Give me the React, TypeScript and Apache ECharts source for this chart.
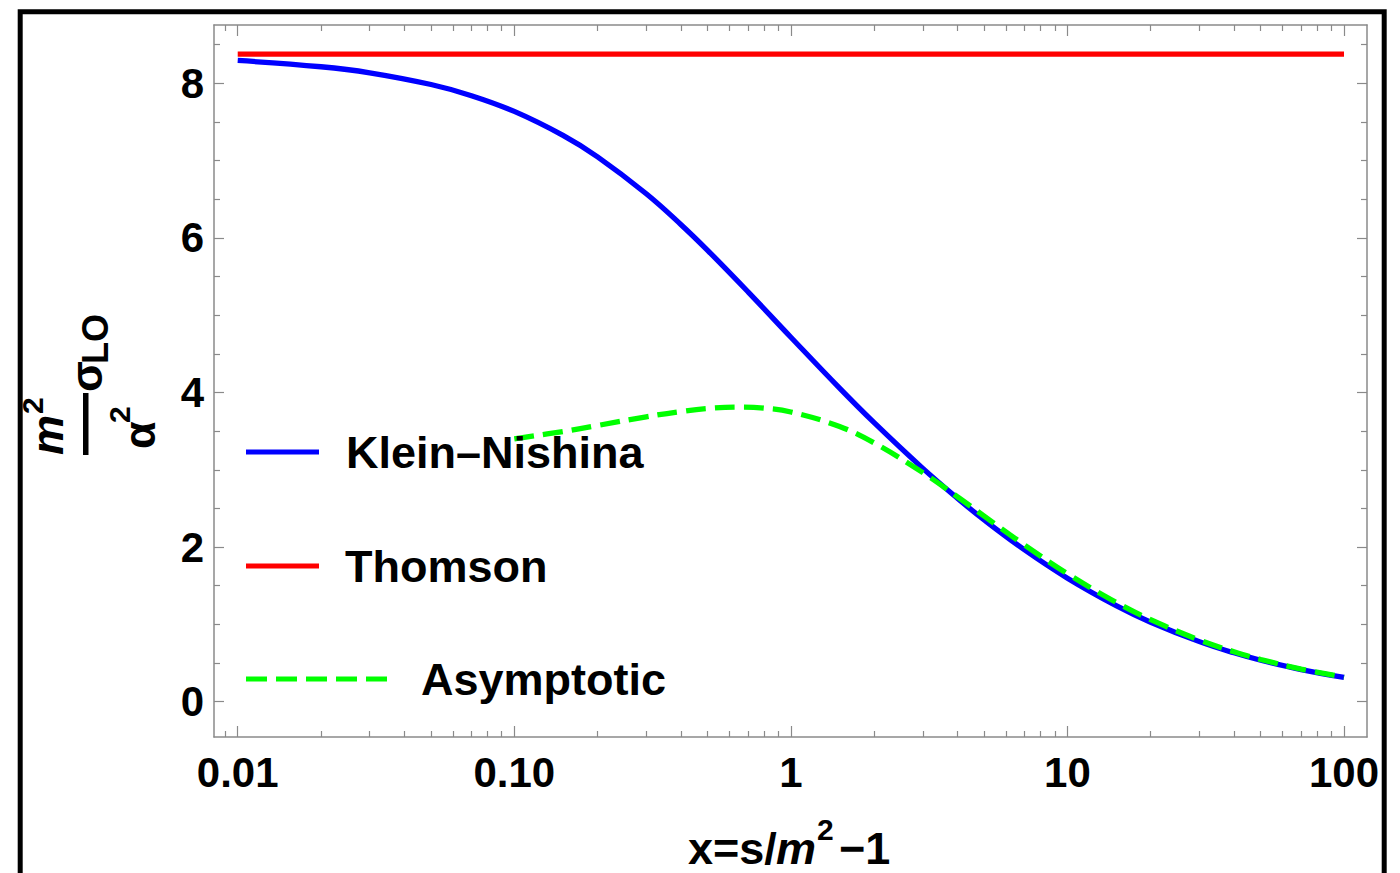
import React, { useEffect, useRef } from 'react';
import * as echarts from 'echarts';

// ---- data ----
const knX = [0.01, 0.02, 0.03, 0.05, 0.07, 0.1, 0.15, 0.2, 0.3, 0.4, 0.5, 0.7, 1, 1.5, 2, 3, 4, 5, 7, 10, 15, 20, 30, 40, 50, 70, 100];
const knY = [8.295, 8.214, 8.136, 7.984, 7.840, 7.636, 7.326, 7.048, 6.571, 6.174, 5.839, 5.302, 4.715, 4.056, 3.609, 3.018, 2.632, 2.351, 1.963, 1.598, 1.242, 1.028, 0.777, 0.632, 0.536, 0.415, 0.315];

const thomsonX = [0.01, 100];
const thomsonY = [8.378, 8.378];

const asymX = [0.1, 0.15, 0.2, 0.3, 0.4, 0.5, 0.65, 0.8, 1, 1.5, 2, 3, 4, 5, 7, 10, 15, 20, 30, 40, 50, 70, 100];
const asymY = [3.400, 3.495, 3.573, 3.685, 3.754, 3.793, 3.811, 3.797, 3.748, 3.560, 3.348, 2.963, 2.651, 2.400, 2.026, 1.655, 1.285, 1.061, 0.797, 0.646, 0.546, 0.422, 0.318];

const seriesNames = ['Klein–Nishina', 'Thomson', 'Asymptotic'];

const xMajorTicks = [0.01, 0.1, 1, 10, 100];
const xMajorLabels = ['0.01', '0.10', '1', '10', '100'];
const xMinorTicks = [
  0.009,
  0.02, 0.03, 0.04, 0.05, 0.06, 0.07, 0.08, 0.09,
  0.2, 0.3, 0.4, 0.5, 0.6, 0.7, 0.8, 0.9,
  2, 3, 4, 5, 6, 7, 8, 9,
  20, 30, 40, 50, 60, 70, 80, 90,
];
const yMajorTicks = [0, 2, 4, 6, 8];
const yMajorLabels = ['0', '2', '4', '6', '8'];
const yMinorTicks = [0.5, 1, 1.5, 2.5, 3, 3.5, 4.5, 5, 5.5, 6.5, 7, 7.5, 8.5];

const X_MIN = 0.008208;
const X_MAX = 121.1;
const Y_MIN = -0.457;
const Y_MAX = 8.754;

const FONT = '"Liberation Sans", Arial, Helvetica, sans-serif';
const FRAME = '#8a8a8a';

const zip = (xs: number[], ys: number[]) => xs.map((x, i) => [x, ys[i]]);

function labelFor(v: number, ticks: number[], labels: string[], log: boolean) {
  for (let i = 0; i < ticks.length; i++) {
    const d = log ? Math.abs(Math.log10(v) - Math.log10(ticks[i])) : Math.abs(v - ticks[i]);
    if (d < 1e-6) return labels[i];
  }
  return '';
}

function makeXAxis(position: string, ticks: number[], len: number, line: boolean, labels: boolean) {
  return {
    type: 'log',
    logBase: 10,
    position,
    min: X_MIN,
    max: X_MAX,
    axisLine: { show: line, onZero: false, lineStyle: { color: FRAME, width: 1.5 } },
    axisTick: { show: true, inside: true, length: len, customValues: ticks, lineStyle: { color: FRAME, width: 1.2 } },
    minorTick: { show: false },
    splitLine: { show: false },
    axisLabel: labels
      ? {
          show: true,
          customValues: ticks,
          formatter: (v: number) => labelFor(v, xMajorTicks, xMajorLabels, true),
          fontFamily: FONT,
          fontWeight: 'bold',
          fontSize: 42,
          color: '#000',
          margin: 14,
        }
      : { show: false },
  };
}

function makeYAxis(position: string, ticks: number[], len: number, line: boolean, labels: boolean) {
  return {
    type: 'value',
    position,
    min: Y_MIN,
    max: Y_MAX,
    axisLine: { show: line, onZero: false, lineStyle: { color: FRAME, width: 1.5 } },
    axisTick: { show: true, inside: true, length: len, customValues: ticks, lineStyle: { color: FRAME, width: 1.2 } },
    minorTick: { show: false },
    splitLine: { show: false },
    axisLabel: labels
      ? {
          show: true,
          customValues: ticks,
          formatter: (v: number) => labelFor(v, yMajorTicks, yMajorLabels, false),
          fontFamily: FONT,
          fontWeight: 'bold',
          fontSize: 42,
          color: '#000',
          margin: 10,
        }
      : { show: false },
  };
}

function makeLegend(name: string, centerY: number, width: number, gap: number, icon: string) {
  return {
    data: [name],
    orient: 'vertical',
    left: 246,
    top: centerY - 25,
    padding: 0,
    itemWidth: width,
    itemHeight: 5,
    icon,
    selectedMode: false,
    textStyle: {
      fontFamily: FONT,
      fontWeight: 'bold',
      fontSize: 45,
      color: '#000',
      lineHeight: 50,
      padding: [0, 0, 0, gap],
    },
  };
}

const dashIcon = 'path://M0,0h21v5h-21z M30,0h21v5h-21z M60,0h21v5h-21z M90,0h21v5h-21z M120,0h21v5h-21z';

const txt = (text: string, x: number, y: number, size: number, italic = false, align = 'left') => ({
  type: 'text',
  x,
  y,
  style: {
    text,
    fontFamily: FONT,
    fontWeight: 'bold',
    fontStyle: italic ? 'italic' : 'normal',
    fontSize: size,
    fill: '#000',
    align,
    verticalAlign: 'middle',
  },
});

export default function App() {
  const ref = useRef<HTMLDivElement>(null);

  useEffect(() => {
    if (!ref.current) return;
    const chart = echarts.init(ref.current, null, { renderer: 'svg' });

    const option: any = {
      animation: false,
      backgroundColor: '#ffffff',
      grid: { left: 214, right: 33, top: 25, bottom: 136, containLabel: false },
      xAxis: [
        makeXAxis('bottom', xMajorTicks, 11, true, true),
        makeXAxis('bottom', xMinorTicks, 6, false, false),
        makeXAxis('top', xMajorTicks, 11, true, false),
        makeXAxis('top', xMinorTicks, 6, false, false),
      ],
      yAxis: [
        makeYAxis('left', yMajorTicks, 10, true, true),
        makeYAxis('left', yMinorTicks, 6, false, false),
        makeYAxis('right', yMajorTicks, 10, true, false),
        makeYAxis('right', yMinorTicks, 6, false, false),
      ],
      legend: [
        makeLegend(seriesNames[0], 452, 73, 22, 'rect'),
        makeLegend(seriesNames[1], 566, 73, 21, 'rect'),
        makeLegend(seriesNames[2], 679, 141, 29, dashIcon),
      ],
      series: [
        {
          name: seriesNames[0],
          type: 'line',
          xAxisIndex: 0,
          yAxisIndex: 0,
          data: zip(knX, knY),
          smooth: 0.4,
          symbol: 'none',
          itemStyle: { color: '#0000ff' },
          lineStyle: { color: '#0000ff', width: 5.3, cap: 'butt' },
        },
        {
          name: seriesNames[1],
          type: 'line',
          xAxisIndex: 0,
          yAxisIndex: 0,
          data: zip(thomsonX, thomsonY),
          symbol: 'none',
          itemStyle: { color: '#ff0000' },
          lineStyle: { color: '#ff0000', width: 5.3, cap: 'butt' },
        },
        {
          name: seriesNames[2],
          type: 'line',
          xAxisIndex: 0,
          yAxisIndex: 0,
          data: zip(asymX, asymY),
          smooth: 0.4,
          symbol: 'none',
          itemStyle: { color: '#00ff00' },
          lineStyle: { color: '#00ff00', width: 5.3, type: [20, 9], cap: 'butt' },
        },
      ],
      graphic: [
        {
          type: 'rect',
          shape: { x: 20.2, y: 11.8, width: 1364, height: 1000 },
          style: { fill: 'none', stroke: '#000', lineWidth: 5 },
          silent: true,
        },
        {
          type: 'group',
          x: 90,
          y: 380,
          rotation: Math.PI / 2,
          children: [
            { type: 'rect', shape: { x: -75, y: -7, width: 62, height: 5.5 }, style: { fill: '#000' } },
            txt('m', -75, -43, 45, true),
            txt('2', -34, -57.5, 30),
            txt('α', -69, 49, 45),
            txt('2', -43, 29.5, 30),
            txt('σ', -12, -4, 45),
            txt('LO', 16, 5.5, 36),
          ],
        },
        txt('x=s/', 688, 848, 45),
        txt('m', 776, 848, 45, true),
        txt('2', 817, 829.5, 30),
        txt('−1', 839, 848, 45),
      ],
    };

    chart.setOption(option);
    return () => chart.dispose();
  }, []);

  return (
    <div
      ref={ref}
      style={{ position: 'fixed', left: 0, top: 0, width: 1400, height: 873, background: '#fff' }}
    />
  );
}
